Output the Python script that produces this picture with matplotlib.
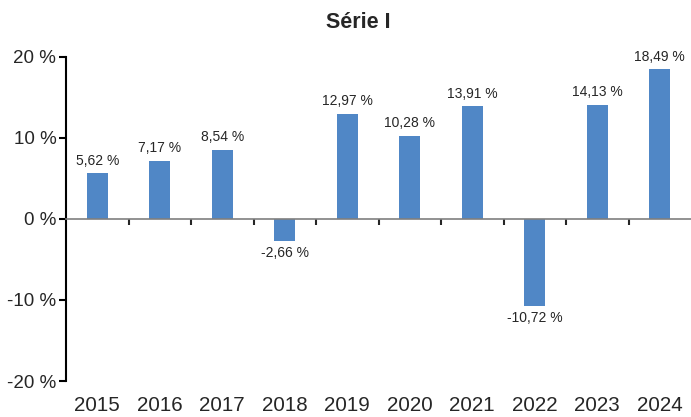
import matplotlib
matplotlib.use("Agg")
import matplotlib.pyplot as plt
from matplotlib.ticker import FuncFormatter, FixedLocator

years = ["2015", "2016", "2017", "2018", "2019", "2020", "2021", "2022", "2023", "2024"]
values = [5.62, 7.17, 8.54, -2.66, 12.97, 10.28, 13.91, -10.72, 14.13, 18.49]
title = "Série I"

bar_color = "#5087C6"
text_color = "#262626"

plt.rcParams['font.family'] = ['Liberation Sans', 'DejaVu Sans']

fig = plt.figure(figsize=(6.91, 4.17), dpi=100)
ax = fig.add_axes([66 / 691, 36 / 417, 625 / 691, 324 / 417])

x = list(range(len(years)))
ax.bar(x, values, width=0.34, color=bar_color, zorder=2)

for xi, v in zip(x, values):
    label = f"{v:.2f} %".replace(".", ",")
    if v >= 0:
        ax.annotate(label, (xi, v), xytext=(0, 4), textcoords="offset points",
                    ha="center", va="bottom", fontsize=10, color=text_color)
    else:
        ax.annotate(label, (xi, v), xytext=(0, -4), textcoords="offset points",
                    ha="center", va="top", fontsize=10, color=text_color)

ax.set_xlim(-0.5, len(years) - 0.5)
ax.set_ylim(-20, 20)
ax.set_yticks([-20, -10, 0, 10, 20])
ax.yaxis.set_major_formatter(FuncFormatter(lambda v, p: f"{v:.0f} %"))
ax.tick_params(axis="y", labelsize=13.5, labelcolor=text_color, color="black",
               length=5, width=1.5, direction="out", pad=2)

# zero line with separators between years
for s in ["top", "right"]:
    ax.spines[s].set_visible(False)
ax.spines["left"].set_linewidth(1.5)
ax.spines["left"].set_color("black")
ax.spines["bottom"].set_position(("data", 0))
ax.spines["bottom"].set_color("#7f7f7f")
ax.spines["bottom"].set_linewidth(1.2)
ax.xaxis.set_major_locator(FixedLocator([i + 0.5 for i in range(len(years) - 1)]))
ax.tick_params(axis="x", length=4, width=1.5, color="#262626", labelbottom=False)

# year labels along the bottom of the axes
sec = ax.secondary_xaxis(0)
sec.set_xticks(x)
sec.set_xticklabels(years)
sec.spines["bottom"].set_visible(False)
sec.tick_params(axis="x", length=0, pad=11, labelsize=14.8, colors=text_color)

fig.text(358 / 691, 1 - 23 / 417, title, ha="center", va="center",
         fontsize=15.5, fontweight="bold", color=text_color)

fig.savefig("out.png", dpi=100)
